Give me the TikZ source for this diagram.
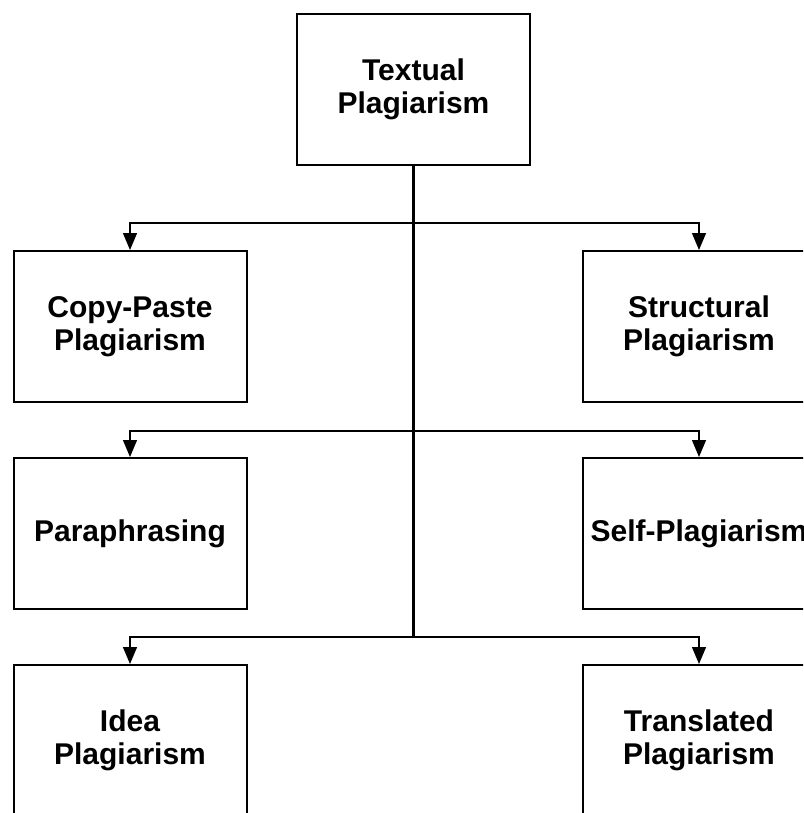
\documentclass[tikz,border=0pt]{standalone}
\usepackage{fontspec}
\setmainfont{Liberation Sans}
\usepackage{tikz}
\usetikzlibrary {arrows.meta}

\begin{document}
\begin{tikzpicture}[x=1pt, y=-1pt,
  box/.style = {draw, line width=2pt, minimum width=233pt, minimum height=151pt,
                align=center, font=\fontsize{30}{33.5}\selectfont\bfseries},
  link/.style = {line width=1.3pt, -{Triangle[length=17pt,width=14pt]}},
  trunk/.style = {line width=2.2pt}]

\useasboundingbox (0,0) rectangle (803,813);
\clip (0,0) rectangle (803,813);

\node (tp) at (413.5,89.5) [box]{Textual\\Plagiarism};

\node (cp) at (130,326.5) [box]{Copy-Paste\\Plagiarism};
\node (st) at (699,326.5) [box]{Structural\\Plagiarism};
\node (pa) at (130,533.5) [box]{Paraphrasing};
\node (sp) at (699,533.5) [box]{Self-Plagiarism};
\node (id) at (130,740.5) [box]{Idea\\Plagiarism};
\node (tr) at (699,740.5) [box]{Translated\\Plagiarism};

\coordinate (j1) at (413.5,223);
\coordinate (j2) at (413.5,431);
\coordinate (j3) at (413.5,637);

\draw[trunk] (tp) -- (j3);

\draw[link] (j1) -| (cp.north);
\draw[link] (j1) -| (st.north);
\draw[link] (j2) -| (pa.north);
\draw[link] (j2) -| (sp.north);
\draw[link] (j3) -| (id.north);
\draw[link] (j3) -| (tr.north);

\end{tikzpicture}
\end{document}
